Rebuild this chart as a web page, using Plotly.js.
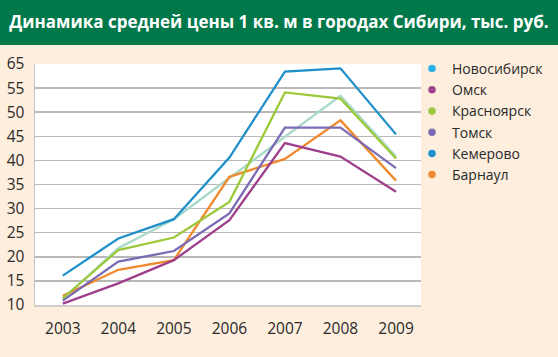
<!DOCTYPE html>
<html><head><meta charset="utf-8">
<script src="https://cdn.plot.ly/plotly-3.0.1.min.js"></script>
<style>html,body{margin:0;padding:0;background:#fdeedd;overflow:hidden;}
#chart{width:558px;height:357px;}</style>
</head><body><div id="chart"></div>
<script>
const years = ['2003','2004','2005','2006','2007','2008','2009'];
const cities = ['Новосибирск','Омск','Красноярск','Томск','Кемерово','Барнаул'];
const novosibirsk = [11.2, 21.8, 27.8, 36.4, 44.9, 53.4, 40.8];
const omsk        = [10.3, 14.5, 19.3, 27.6, 43.6, 40.8, 33.5];
const krasnoyarsk = [11.4, 21.4, 24.0, 31.4, 54.1, 52.8, 40.4];
const tomsk       = [10.9, 19.0, 21.2, 29.0, 46.8, 46.8, 38.4];
const kemerovo    = [16.1, 23.8, 27.8, 40.6, 58.4, 59.1, 45.4];
const barnaul     = [11.9, 17.3, 19.3, 36.6, 40.3, 48.3, 35.8];
const yTickVals = [10,15,20,25,30,35,40,45,50,55,60];
const yTickText = ['10','15','20','25','30','35','40','45','50','55','65'];

const series = [novosibirsk, omsk, krasnoyarsk, tomsk, kemerovo, barnaul];
const lineColors = ['#a9d9c9','#9e3f8c','#9cc93c','#7b6ab4','#1f8fc9','#f08a2e'];
const dotColors  = ['#2bb0e6','#a0428e','#9cc93c','#7b6ab4','#1f8fc9','#f08a2e'];

const traces = [];
const order = [0,5,3,1,2,4];
order.forEach(i => {
  traces.push({x: years, y: series[i], type:'scatter', mode:'lines', name: cities[i],
    line:{color: lineColors[i], width: 2.3}, showlegend:false, hoverinfo:'skip'});
});
cities.forEach((c,i) => {
  traces.push({x:[null], y:[null], type:'scatter', mode:'markers', name:c,
    marker:{color: dotColors[i], size: 7.5}, showlegend:true});
});

const L = 35, R = 421, T = 64, B = 305;
const pw = R - L, ph = B - T;
const layout = {
  width:558, height:357,
  margin:{l:L, r:558-R, t:T, b:357-B, pad:0, autoexpand:false},
  paper_bgcolor:'#fdeedd', plot_bgcolor:'#ffffff',
  font:{family:'"Open Sans", "Noto Sans", sans-serif', color:'#2a2a2a', size:15},
  title:{text:'<b>Динамика средней цены 1 кв. м в городах Сибири, тыс. руб.</b>',
    font:{family:'"Open Sans", "Noto Sans", sans-serif', size:17, color:'#ffffff'},
    x:0.5, xref:'container', xanchor:'center', y:1-22.5/357, yref:'container', yanchor:'middle'},
  xaxis:{type:'category', range:[-0.5, 6.45], showgrid:false, zeroline:false,
    showline:true, linecolor:'#cfcfcf', linewidth:2, ticks:'', ticklen:0, ticklabelstandoff:8,
    tickfont:{size:15.5, color:'#2a2a2a'}, fixedrange:true},
  yaxis:{range:[10,60], tickmode:'array', tickvals:yTickVals, ticktext:yTickText,
    showgrid:true, gridcolor:'#b8b8b8', gridwidth:1.5, zeroline:false,
    showline:true, linecolor:'#c4c4c4', linewidth:1.5, ticks:'', ticklabelstandoff:6,
    tickfont:{size:15.5, color:'#2a2a2a'}, fixedrange:true},
  legend:{xref:'container', yref:'container', x:412/558, xanchor:'left', y:1-53/357, yanchor:'top',
    bgcolor:'rgba(0,0,0,0)', font:{size:14, color:'#2a2a2a'}, itemwidth:30, tracegroupgap:0},
  shapes:[{type:'rect', xref:'paper', yref:'paper', x0:-L/pw, x1:1+(558-R)/pw,
    y0:1+(T-45)/ph, y1:1+T/ph, fillcolor:'#00784a', line:{width:0}, layer:'above'}],
  showlegend:true
};
Plotly.newPlot('chart', traces, layout, {displayModeBar:false, staticPlot:true});
</script></body></html>
